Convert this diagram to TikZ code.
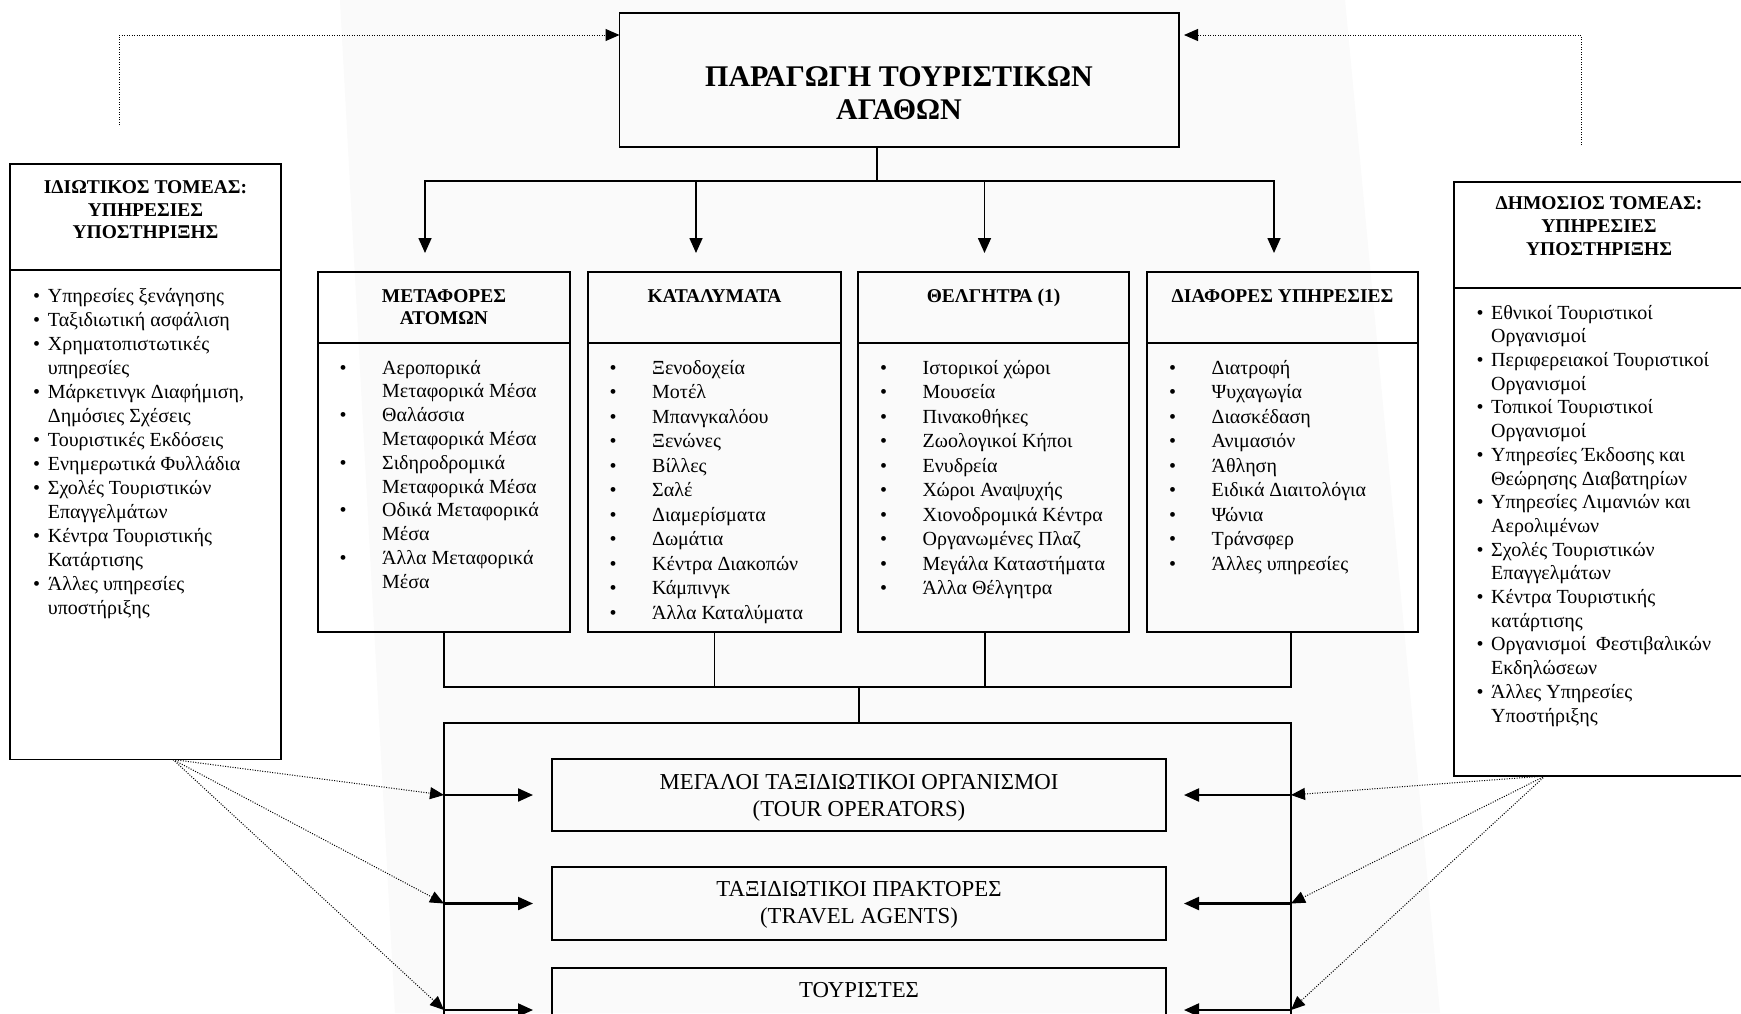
\documentclass[tikz,border=0pt]{standalone}
\usepackage{fontspec}
\setmainfont{Liberation Serif}
\usetikzlibrary{arrows.meta,calc}

\newlength\bulletgap
\newcommand\itm[1]{\makebox[\bulletgap][l]{•}#1}
\newcommand\cnt[1]{\hspace*{\bulletgap}#1}

% multi-line nodes are anchored at the baseline of their last line
\tikzset{
  box/.style={draw,line width=1.6pt,inner sep=0pt,outer sep=0pt,anchor=north west},
  conn/.style={line width=1.6pt},
  arr/.style={line width=1.6pt,-{Triangle[length=15pt,width=13pt]}},
  inarr/.style={line width=2.2pt,-{Triangle[length=15pt,width=13pt]}},
  dotl/.style={line width=1pt,dash pattern=on 1pt off 1.5pt},
  dotarr/.style={dotl,-{Triangle[length=14pt,width=12pt]}},
  ttl/.style={font=\fontsize{30}{33.3}\selectfont\bfseries,align=center,inner sep=0pt,anchor=base},
  hdr/.style={font=\fontsize{19.5}{#1}\selectfont\bfseries,align=center,inner sep=0pt,anchor=base},
  hdr/.default=22.5,
  lst/.style 2 args={font=\fontsize{20}{#2}\selectfont,align=left,inner sep=0pt,anchor=base west,
     execute at begin node={\setlength\bulletgap{#1}}},
  mid/.style={font=\fontsize{22.8}{26.5}\selectfont,align=center,inner sep=0pt,anchor=base},
}

\begin{document}
\begin{tikzpicture}[x=1pt,y=-1pt]
\useasboundingbox (0,0) rectangle (1741,1013);
\clip (0,0) rectangle (1741,1013);
\fill[white] (0,0) rectangle (1741,1013);
\fill[black!2] (340,0) -- (1345,0) -- (1440,1013) -- (395,1013) -- cycle;

% production of tourist goods
\node[box,minimum width=559.5pt,minimum height=134pt] (top) at (619.5,13) {};
\node[ttl] (toptxt) at (899,119.3) {ΠΑΡΑΓΩΓΗ ΤΟΥΡΙΣΤΙΚΩΝ\\ΑΓΑΘΩΝ};

% private sector
\node[box,minimum width=271pt,minimum height=106pt] (lh) at (10,164) {};
\node[box,minimum width=271pt,minimum height=489.5pt] (lb) at (10,270) {};
\node[hdr] (lhtxt) at (145.5,238.5) {ΙΔΙΩΤΙΚΟΣ ΤΟΜΕΑΣ:\\ΥΠΗΡΕΣΙΕΣ\\ΥΠΟΣΤΗΡΙΞΗΣ};
\node[lst={14.7pt}{24}] (lbtxt) at (33,614) {%
\itm{Υπηρεσίες ξενάγησης}\\
\itm{Ταξιδιωτική ασφάλιση}\\
\itm{Χρηματοπιστωτικές}\\
\cnt{υπηρεσίες}\\
\itm{Μάρκετινγκ Διαφήμιση,}\\
\cnt{Δημόσιες Σχέσεις}\\
\itm{Τουριστικές Εκδόσεις}\\
\itm{Ενημερωτικά Φυλλάδια}\\
\itm{Σχολές Τουριστικών}\\
\cnt{Επαγγελμάτων}\\
\itm{Κέντρα Τουριστικής}\\
\cnt{Κατάρτισης}\\
\itm{Άλλες υπηρεσίες}\\
\cnt{υποστήριξης}};

% public sector
\node[box,minimum width=290pt,minimum height=106pt] (rh) at (1454,182) {};
\node[box,minimum width=290pt,minimum height=488pt] (rb) at (1454,288) {};
\node[hdr=22.8] (rhtxt) at (1599,255) {ΔΗΜΟΣΙΟΣ ΤΟΜΕΑΣ:\\ΥΠΗΡΕΣΙΕΣ\\ΥΠΟΣΤΗΡΙΞΗΣ};
\node[lst={14.5pt}{23.7}] (rbtxt) at (1476.5,722) {%
\itm{Εθνικοί Τουριστικοί}\\
\cnt{Οργανισμοί}\\
\itm{Περιφερειακοί Τουριστικοί}\\
\cnt{Οργανισμοί}\\
\itm{Τοπικοί Τουριστικοί}\\
\cnt{Οργανισμοί}\\
\itm{Υπηρεσίες Έκδοσης και}\\
\cnt{Θεώρησης Διαβατηρίων}\\
\itm{Υπηρεσίες Λιμανιών και}\\
\cnt{Αερολιμένων}\\
\itm{Σχολές Τουριστικών}\\
\cnt{Επαγγελμάτων}\\
\itm{Κέντρα Τουριστικής}\\
\cnt{κατάρτισης}\\
\itm{Οργανισμοί\ \ Φεστιβαλικών}\\
\cnt{Εκδηλώσεων}\\
\itm{Άλλες Υπηρεσίες}\\
\cnt{Υποστήριξης}};

% the four sectors of production
\node[box,minimum width=252pt,minimum height=71pt] (h1) at (318,272) {};
\node[box,minimum width=252pt,minimum height=289pt] (b1) at (318,343) {};
\node[box,minimum width=253pt,minimum height=71pt] (h2) at (588,272) {};
\node[box,minimum width=253pt,minimum height=289pt] (b2) at (588,343) {};
\node[box,minimum width=271pt,minimum height=71pt] (h3) at (858,272) {};
\node[box,minimum width=271pt,minimum height=289pt] (b3) at (858,343) {};
\node[box,minimum width=271pt,minimum height=71pt] (h4) at (1147,272) {};
\node[box,minimum width=271pt,minimum height=289pt] (b4) at (1147,343) {};

\node[hdr=22.2] (h1txt) at (444,324.2) {ΜΕΤΑΦΟΡΕΣ\\ΑΤΟΜΩΝ};
\node[hdr] (h2txt) at (714.5,302) {ΚΑΤΑΛΥΜΑΤΑ};
\node[hdr] (h3txt) at (993.5,302) {ΘΕΛΓΗΤΡΑ (1)};
\node[hdr] (h4txt) at (1282.5,302) {ΔΙΑΦΟΡΕΣ ΥΠΗΡΕΣΙΕΣ};

\node[lst={42.5pt}{23.8}] (b1txt) at (339.5,588.2) {%
\itm{Αεροπορικά}\\
\cnt{Μεταφορικά Μέσα}\\
\itm{Θαλάσσια}\\
\cnt{Μεταφορικά Μέσα}\\
\itm{Σιδηροδρομικά}\\
\cnt{Μεταφορικά Μέσα}\\
\itm{Οδικά Μεταφορικά}\\
\cnt{Μέσα}\\
\itm{Άλλα Μεταφορικά}\\
\cnt{Μέσα}};
\node[lst={42.5pt}{24.5}] (b2txt) at (609.5,619) {%
\itm{Ξενοδοχεία}\\
\itm{Μοτέλ}\\
\itm{Μπανγκαλόου}\\
\itm{Ξενώνες}\\
\itm{Βίλλες}\\
\itm{Σαλέ}\\
\itm{Διαμερίσματα}\\
\itm{Δωμάτια}\\
\itm{Κέντρα Διακοπών}\\
\itm{Κάμπινγκ}\\
\itm{Άλλα Καταλύματα}};
\node[lst={42.5pt}{24.5}] (b3txt) at (880,594.5) {%
\itm{Ιστορικοί χώροι}\\
\itm{Μουσεία}\\
\itm{Πινακοθήκες}\\
\itm{Ζωολογικοί Κήποι}\\
\itm{Ενυδρεία}\\
\itm{Χώροι Αναψυχής}\\
\itm{Χιονοδρομικά Κέντρα}\\
\itm{Οργανωμένες Πλαζ}\\
\itm{Μεγάλα Καταστήματα}\\
\itm{Άλλα Θέλγητρα}};
\node[lst={42.5pt}{24.5}] (b4txt) at (1169,570) {%
\itm{Διατροφή}\\
\itm{Ψυχαγωγία}\\
\itm{Διασκέδαση}\\
\itm{Ανιμασιόν}\\
\itm{Άθληση}\\
\itm{Ειδικά Διαιτολόγια}\\
\itm{Ψώνια}\\
\itm{Τράνσφερ}\\
\itm{Άλλες υπηρεσίες}};

% distribution channels
\node[box,minimum width=847pt,minimum height=320pt] (big) at (444,723) {};
\node[box,minimum width=614pt,minimum height=72pt] (to) at (552,759) {};
\node[box,minimum width=614pt,minimum height=73pt] (ta) at (552,867) {};
\node[box,minimum width=614pt,minimum height=84pt] (tour) at (552,968) {};
\node[mid] (totxt) at (859,816) {ΜΕΓΑΛΟΙ ΤΑΞΙΔΙΩΤΙΚΟΙ ΟΡΓΑΝΙΣΜΟΙ\\(TOUR OPERATORS)};
\node[mid] (tatxt) at (859,923) {ΤΑΞΙΔΙΩΤΙΚΟΙ ΠΡΑΚΤΟΡΕΣ\\(TRAVEL AGENTS)};
\node[mid] (tourtxt) at (859,997) {ΤΟΥΡΙΣΤΕΣ};

% tree from production to the sectors
\coordinate (fork) at (877,181);
\draw[conn] (top.south -| fork) -- (fork);
\draw[arr,shorten >=19pt] (fork) -| ([xshift=-19pt]h1.north);
\draw[arr,shorten >=19pt] (fork) -| ([xshift=-18.5pt]h2.north);
\draw[arr,shorten >=19pt] (fork) -| ([xshift=-9pt]h3.north);
\draw[arr,shorten >=19pt] (fork) -| ([xshift=-8.5pt]h4.north);

% sectors joined towards the distribution channels
\coordinate (join) at (859,687);
\draw[conn] (b1.south) |- (join);
\draw[conn] (b2.south) |- (join);
\draw[conn] ([xshift=-8.5pt]b3.south) |- (join);
\draw[conn] ([xshift=8.5pt]b4.south) |- (join);
\draw[conn] (join) -- (join |- big.north);

% arrows into the channels
\foreach \n in {to,ta,tour}{
  \draw[inarr,shorten >=19pt] (big.west |- \n.west) -- (\n.west);
  \draw[inarr,shorten >=18pt] (big.east |- \n.east) -- (\n.east);
}

% support services towards the channels
\coordinate (ls) at ($(lb.south west)+(163,0)$);
\coordinate (rs) at ($(rb.south west)+(91,0)$);
\foreach \n in {to,ta,tour}{
  \draw[dotarr] (ls) -- (big.west |- \n.west);
  \draw[dotarr] (rs) -- (big.east |- \n.east);
}

% support services towards production
\coordinate (lup) at ($(lh.north west)+(109,-39)$);
\coordinate (rup) at ($(rh.north west)+(127,-37)$);
\draw[dotarr] (lup) |- ($(top.north west)+(0,22)$);
\draw[dotarr] (rup) |- ($(top.north east)+(5,22)$);
\end{tikzpicture}
\end{document}
